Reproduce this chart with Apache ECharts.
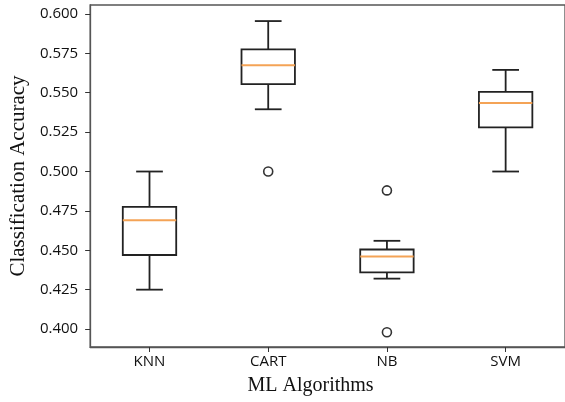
<!DOCTYPE html>
<html>
<head>
<meta charset="utf-8">
<script src="https://cdn.jsdelivr.net/npm/echarts@6/dist/echarts.min.js"></script>
<style>
  html, body { margin: 0; padding: 0; background: #fff; }
  #main { width: 565px; height: 402px; }
</style>
</head>
<body>
<div id="main"></div>
<script>
// box statistics
const categories = ['KNN', 'CART', 'NB', 'SVM'];
const lows = [0.425, 0.5395, 0.432, 0.500];
const q1s = [0.447, 0.5555, 0.436, 0.528];
const medians = [0.469, 0.5675, 0.446, 0.5435];
const q3s = [0.4775, 0.5775, 0.4505, 0.5505];
const highs = [0.500, 0.5955, 0.456, 0.5645];
// outliers: [category index, value]
const outliers = [[1, 0.500], [2, 0.488], [2, 0.398]];
const yTicks = [0.400, 0.425, 0.450, 0.475, 0.500, 0.525, 0.550, 0.575, 0.600];

const boxData = categories.map((c, i) => [i, lows[i], q1s[i], medians[i], q3s[i], highs[i]]);

const lineCol = '#222';
const medCol = '#f4a356';

function renderBox(params, api) {
  const i = api.value(0);
  const bw = api.size([1, 0])[0] * 0.45;
  const cw = bw / 2;
  const pLow = api.coord([i, api.value(1)]);
  const pQ1 = api.coord([i, api.value(2)]);
  const pMed = api.coord([i, api.value(3)]);
  const pQ3 = api.coord([i, api.value(4)]);
  const pHigh = api.coord([i, api.value(5)]);
  const x = pQ1[0];
  const st = { stroke: lineCol, lineWidth: 1.8, fill: null };
  return {
    type: 'group',
    children: [
      { type: 'line', shape: { x1: x, y1: pLow[1], x2: x, y2: pQ1[1] }, style: st },
      { type: 'line', shape: { x1: x, y1: pQ3[1], x2: x, y2: pHigh[1] }, style: st },
      { type: 'line', shape: { x1: x - cw / 2, y1: pLow[1], x2: x + cw / 2, y2: pLow[1] }, style: st },
      { type: 'line', shape: { x1: x - cw / 2, y1: pHigh[1], x2: x + cw / 2, y2: pHigh[1] }, style: st },
      { type: 'rect', shape: { x: x - bw / 2, y: pQ3[1], width: bw, height: pQ1[1] - pQ3[1] }, style: st },
      { type: 'line', shape: { x1: x - bw / 2, y1: pMed[1], x2: x + bw / 2, y2: pMed[1] }, style: { stroke: medCol, lineWidth: 2 } }
    ]
  };
}

// outlier rings drawn the same way, through the axes
function renderFlier(params, api) {
  const p = api.coord([api.value(0), api.value(1)]);
  return {
    type: 'circle',
    shape: { cx: p[0], cy: p[1], r: 4.5 },
    style: { stroke: '#333', lineWidth: 1.6, fill: '#fff' }
  };
}

const chart = echarts.init(document.getElementById('main'));
const option = {
  animation: false,
  backgroundColor: '#fff',
  grid: {
    left: 89, top: 5, width: 481, height: 342,
    show: true, borderColor: '#555', borderWidth: 1.3, backgroundColor: 'transparent'
  },
  xAxis: {
    type: 'category',
    data: categories,
    boundaryGap: true,
    name: 'ML Algorithms',
    nameLocation: 'middle',
    nameGap: 29,
    nameTextStyle: { fontFamily: 'Liberation Serif', fontSize: 20, color: '#111', padding: [0, 34, 0, 0] },
    axisLine: { show: true, lineStyle: { color: '#555', width: 1.3 } },
    axisTick: { show: true, alignWithLabel: true, length: 5, lineStyle: { color: '#333' } },
    axisLabel: { fontFamily: 'Open Sans', fontSize: 15, color: '#111', margin: 7 },
    splitLine: { show: false }
  },
  yAxis: {
    type: 'value',
    min: 0.3886,
    max: 0.6057,
    name: 'Classification Accuracy',
    nameLocation: 'middle',
    nameRotate: 90,
    nameGap: 61,
    nameTextStyle: { fontFamily: 'Liberation Serif', fontSize: 21, color: '#111' },
    axisLine: { show: true, lineStyle: { color: '#555', width: 1.3 } },
    axisTick: { show: true, length: 5, customValues: yTicks, lineStyle: { color: '#333' } },
    axisLabel: {
      fontFamily: 'Open Sans', fontSize: 15, color: '#111', margin: 12,
      customValues: yTicks,
      formatter: v => v.toFixed(3)
    },
    splitLine: { show: false }
  },
  series: [
    {
      type: 'custom',
      renderItem: renderBox,
      data: boxData,
      encode: { x: 0, y: [1, 2, 3, 4, 5] },
      z: 3
    },
    {
      type: 'custom',
      renderItem: renderFlier,
      data: outliers,
      encode: { x: 0, y: 1 },
      z: 4
    }
  ]
};
chart.setOption(option);
</script>
</body>
</html>
